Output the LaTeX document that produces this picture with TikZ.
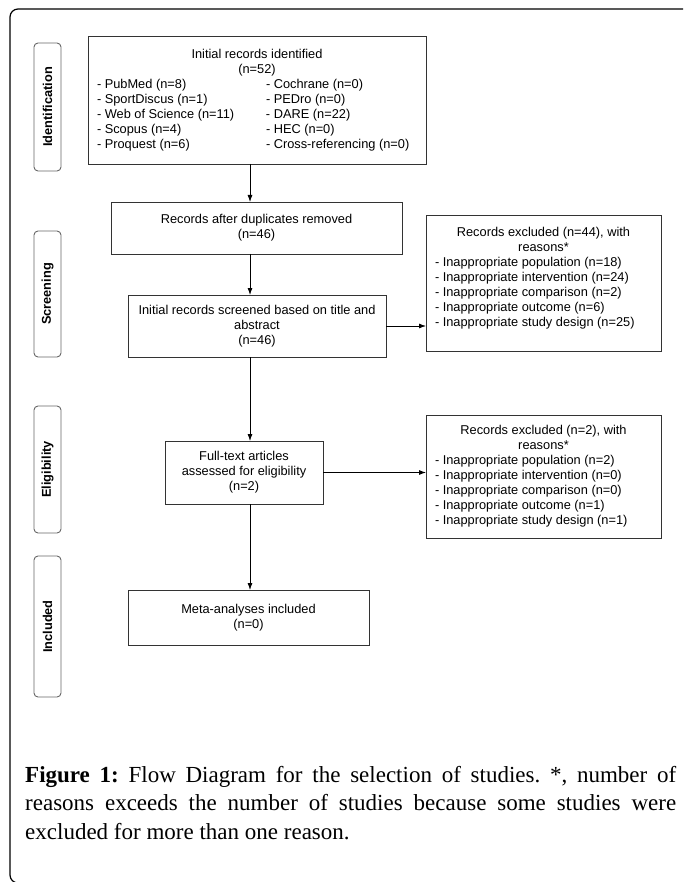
\documentclass[tikz,border=0pt]{standalone}
\usepackage{fontspec}
\setmainfont{Liberation Serif}
\newfontfamily\arialfont{Liberation Sans}
\usetikzlibrary{arrows.meta}
\frenchspacing
\newcommand{\boxfont}{\arialfont\fontsize{12.8}{15}\selectfont}
\newcommand{\twocol}[2]{\makebox[169pt][l]{#1}\makebox[151pt][l]{#2}}
\newcommand{\onecol}[1]{\makebox[217pt][l]{#1}}
\tikzset{
  flowbox/.style={draw=black!80,line width=0.8pt,inner sep=0pt,outer sep=0pt,align=center,font=\boxfont},
  sidebox/.style={draw=black!60,line width=0.9pt,rounded corners=4pt,rotate=90,minimum height=27pt,inner sep=0pt,
    font=\arialfont\bfseries\fontsize{12.8}{15}\selectfont},
  flowarrow/.style={-{Latex[length=7pt,width=5pt]},line width=0.8pt},
}
\begin{document}
\begin{tikzpicture}[x=1pt,y=-1pt]
\useasboundingbox (0,0) rectangle (683,882);
\begin{scope}
\clip (0,0) rectangle (683,882);
\draw[line width=1.2pt,rounded corners=8pt] (10,9) rectangle (700,883);
\end{scope}
% stage labels
\foreach \nm/\lbl/\yc/\hh in {lbident/Identification/107/128,lbscreen/Screening/294/126,lbelig/Eligibility/469.5/127,lbincl/Included/626.5/141}{
  \node[sidebox,minimum width=\hh pt] (\nm) at (47.5,\yc) {\lbl};
}
% flow boxes
\node[flowbox,minimum width=338pt,minimum height=128pt] (recid) at (257,100) {%
  \makebox[320pt]{Initial records identified}\\
  (n=52)\\
  \twocol{- PubMed (n=8)}{- Cochrane (n=0)}\\
  \twocol{- SportDiscus (n=1)}{- PEDro (n=0)}\\
  \twocol{- Web of Science (n=11)}{- DARE (n=22)}\\
  \twocol{- Scopus (n=4)}{- HEC (n=0)}\\
  \twocol{- Proquest (n=6)}{- Cross-referencing (n=0)}};
\node[flowbox,minimum width=291pt,minimum height=52pt] (dedup) at (256.5,228) {Records after duplicates removed\\(n=46)};
\node[flowbox,minimum width=258pt,minimum height=62pt] (screen) at (257,326) {Initial records screened based on title and\\abstract\\(n=46)};
\node[flowbox,minimum width=235pt,minimum height=136pt] (exclA) at (543.5,283) {%
  Records excluded (n=44), with\\
  reasons*\\
  \onecol{- Inappropriate population (n=18)}\\
  \onecol{- Inappropriate intervention (n=24)}\\
  \onecol{- Inappropriate comparison (n=2)}\\
  \onecol{- Inappropriate outcome (n=6)}\\
  \onecol{- Inappropriate study design (n=25)}\\[-3pt]
  \mbox{}};
\node[flowbox,minimum width=158pt,minimum height=63pt] (fulltext) at (244,472.5) {Full-text articles\\assessed for eligibility\\(n=2)};
\node[flowbox,minimum width=235pt,minimum height=123pt] (exclB) at (543.5,476.5) {%
  Records excluded (n=2), with\\
  reasons*\\
  \onecol{- Inappropriate population (n=2)}\\
  \onecol{- Inappropriate intervention (n=0)}\\
  \onecol{- Inappropriate comparison (n=0)}\\
  \onecol{- Inappropriate outcome (n=1)}\\
  \onecol{- Inappropriate study design (n=1)}};
\node[flowbox,minimum width=241pt,minimum height=55pt] (meta) at (248.5,617.5) {Meta-analyses included\\(n=0)};
% arrows
\coordinate (spine) at (250,0);
\draw[flowarrow] (recid.south -| spine) -- (dedup.north -| spine);
\draw[flowarrow] (dedup.south -| spine) -- (screen.north -| spine);
\draw[flowarrow] (screen.south -| spine) -- (fulltext.north -| spine);
\draw[flowarrow] (fulltext.south -| spine) -- (meta.north -| spine);
\draw[flowarrow] (screen.east) -- (screen.east -| exclA.west);
\draw[flowarrow] (fulltext.east) -- (fulltext.east -| exclB.west);
% caption
\node[anchor=north west,inner sep=0pt,text width=651pt,align=justify,
  font=\fontsize{23}{28.5}\selectfont] (caption) at (25,766) {%
  \textbf{Figure 1:} Flow Diagram for the selection of studies. *, number of\linebreak
  reasons exceeds the number of studies because some studies were\linebreak
  excluded for more than one reason.};
\end{tikzpicture}
\end{document}
